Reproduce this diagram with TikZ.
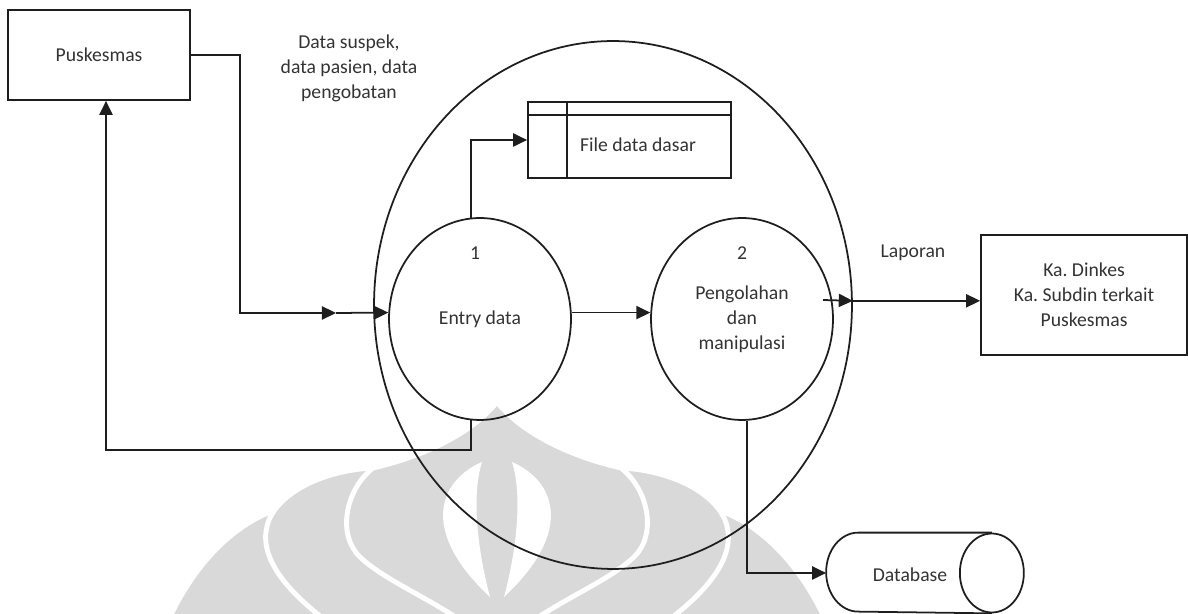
\documentclass[tikz,border=0pt]{standalone}
\usepackage{fontspec}
\setmainfont{Carlito}
\frenchspacing
\usetikzlibrary{arrows.meta,calc,shapes.geometric}
\definecolor{ink}{HTML}{1E1E1E}
\definecolor{txt}{HTML}{333333}
\definecolor{wmgray}{HTML}{D9D9D9}
\tikzset{
	entity/.style={draw, rectangle, inner sep=0pt},
	proc/.style={draw, ellipse, inner sep=0pt, minimum width=3.64cm, minimum height=4.04cm},
	flow/.style={-{Triangle[length=8pt,width=7.5pt]}},
	gap/.style={fill=wmgray, draw=white, line width=2.8pt}
}

\begin{document}
\begin{tikzpicture}[x=0.02cm, y=-0.02cm, color=ink, line width=1pt,
	every node/.style={font=\fontsize{11.2}{14.2}\selectfont, text=txt}]
			%%%%% START %%%%%
			\useasboundingbox (0,0) rectangle (1188,614);
			
			% watermark
			\begin{scope}
				\clip (0,0) rectangle (1188,614);
				\begin{scope}[shift={(497,0)}]
					\foreach \sgn in {1,-1} {
						\fill[wmgray, xscale=\sgn] (-227,515) .. controls (-265,530) and (-305,570) .. (-330,630) -- (-150,640) -- (-200,560) -- cycle;
					}
					\foreach \sgn in {1,-1} {
						\filldraw[gap, xscale=\sgn] (-124,468) .. controls (-170,470) and (-215,490) .. (-228,520) .. controls (-240,550) and (-220,585) .. (-165,625) -- (-20,640) -- (-60,530) -- cycle;
					}
					\filldraw[gap] (0,402) .. controls (-22,430) and (-67,455) .. (-124,468)
						.. controls (-152,490) and (-160,535) .. (-137,557)
						.. controls (-115,578) and (-75,595) .. (-40,618) -- (-30,640) -- (30,640) -- (40,618)
						.. controls (75,595) and (115,578) .. (137,557)
						.. controls (160,535) and (152,490) .. (124,468)
						.. controls (67,455) and (22,430) .. (0,402) -- cycle;
					\foreach \sgn in {1,-1} {
						\fill[white, xscale=\sgn] (-15,462) .. controls (-57,480) and (-79,530) .. (-7,597) .. controls (-17,560) and (-27,500) .. (-15,462) -- cycle;
					}
				\end{scope}
			\end{scope}
			
			% outer boundary and processes
			\node[draw, ellipse, inner sep=0pt, minimum width=9.56cm, minimum height=10.56cm] (big) at (613,305) {};
			\node[proc] (entry) at (480,319) {Entry data};
			\node (n1) at (475,253) {1};
			\node[proc, align=center] (proc2) at (742,319) {Pengolahan\\dan\\manipulasi};
			\node (n2) at (742,253) {2};
			
			% entities
			\node[entity, minimum width=3.64cm, minimum height=1.8cm] (pusk) at (99,55) {Puskesmas};
			\node[entity, minimum width=4.12cm, minimum height=2.4cm, align=center] (dinkes) at (1084,295) {Ka. Dinkes\\Ka. Subdin terkait\\Puskesmas};
			
			% data store
			\node[entity, minimum width=4.06cm, minimum height=1.52cm] (file) at (629.5,140) {};
			\draw ($(file.north west)+(0,14)$) -- ($(file.north east)+(0,14)$);
			\draw ($(file.north west)+(40,0)$) -- ($(file.south west)+(40,0)$);
			\node (filetxt) at (638,145) {File data dasar};
			
			% database
			\node[inner sep=0pt, minimum width=3.92cm, minimum height=1.58cm] (db) at (925,573) {};
			\draw ($(db.east)+(-32,0)$) ellipse [x radius=0.64cm, y radius=0.79cm];
			\draw ($(db.north east)+(-32,0)$) -- ($(db.north west)+(32,0)$)
				arc [start angle=90, end angle=270, x radius=0.64cm, y radius=0.79cm]
				-- ($(db.south east)+(-32,0)$);
			\node (dbtxt) at (910,575) {Database};
			
			% labels
			\node[align=center] (datalbl) at (349,68) {Data suspek,\\data pasien, data\\pengobatan};
			\node (laplbl) at (913,253) {Laporan};
			
			% flows
			\coordinate (in1) at (336,313);
			\draw[flow] (pusk.east) -| (240,313) -- (in1);
			\draw[flow] (in1) -- (entry.176);
			
			\draw[flow] (entry.4) -- (proc2.176);
			\draw[flow] (entry.95) |- (file.west);
			
			\coordinate (ret) at (106,450);
			\draw[flow] (entry.265) |- (ret) -- (ret |- pusk.south);
			
			\coordinate (p2out) at (823,300);
			\draw[flow] (p2out) -- (big.1);
			\draw[flow] (big.1) -- (big.1 -| dinkes.west);
			
			\draw[flow] (proc2.273) |- (db.west);
			
			%%%%% END %%%%%
\end{tikzpicture}
\end{document}
